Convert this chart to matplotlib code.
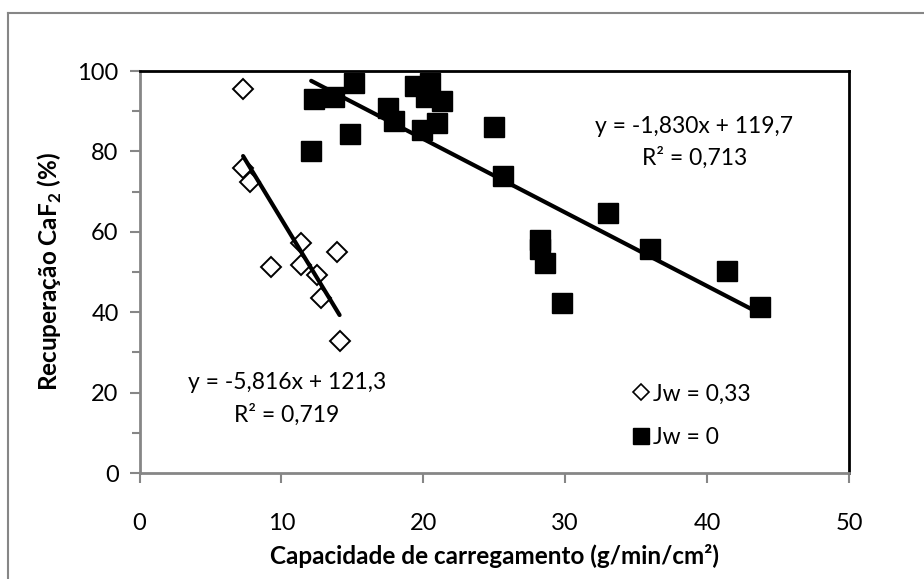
import numpy as np
import matplotlib
matplotlib.use("Agg")
import matplotlib.pyplot as plt
from matplotlib.lines import Line2D
from matplotlib.ticker import MultipleLocator

plt.rcParams['font.family'] = ['Lato', 'DejaVu Sans']
plt.rcParams['mathtext.fontset'] = 'custom'
plt.rcParams['mathtext.rm'] = 'Lato'
plt.rcParams['mathtext.bf'] = 'Lato:bold'

# Jw = 0,33 (open diamonds)
x_jw033 = [7.3, 7.3, 7.8, 11.4, 9.3, 11.4, 12.5, 13.9, 12.8, 14.1]
y_jw033 = [95.4, 75.8, 72.4, 57.3, 51.2, 51.8, 49.2, 55.0, 43.5, 32.8]

# Jw = 0 (filled squares)
x_jw0 = [12.3, 13.7, 15.1, 12.1, 14.8, 17.5, 17.9, 19.4, 20.5, 20.2, 21.3,
         19.9, 21.0, 25.0, 25.6, 33.0, 28.2, 28.2, 28.6, 29.8, 36.0, 41.4, 43.7]
y_jw0 = [93.0, 93.5, 96.9, 80.1, 84.3, 90.7, 87.6, 96.3, 97.1, 93.6, 92.6,
         85.3, 87.0, 86.1, 73.9, 64.6, 58.0, 55.6, 52.2, 42.2, 55.8, 50.2, 41.2]

# linear fits as reported on the chart
slope_033, icpt_033, r2_033 = -5.816, 121.3, 0.719
slope_0, icpt_0, r2_0 = -1.830, 119.7, 0.713

W, H = 924, 579
fig = plt.figure(figsize=(W / 100, H / 100), dpi=100)
ax = fig.add_axes([139.5 / W, 1 - 473 / H, (849 - 139.5) / W, (473 - 71) / H])

gray = '#868686'

ax.plot(x_jw033, y_jw033, 'D', ms=10, mfc='white', mec='black', mew=1.4,
        zorder=3)
ax.plot(x_jw0, y_jw0, 's', ms=14.5, mfc='black', mec='black', zorder=3)

xs = np.array([min(x_jw033), max(x_jw033)])
ax.plot(xs, slope_033 * xs + icpt_033, color='black', lw=3,
        solid_capstyle='round', zorder=4)
xs = np.array([min(x_jw0), max(x_jw0)])
ax.plot(xs, slope_0 * xs + icpt_0, color='black', lw=3,
        solid_capstyle='round', zorder=4)


def fmt(v, nd):
    return f"{v:.{nd}f}".replace('.', ',')


ax.text(10.4, 22.5, f"y = {fmt(slope_033, 3)}x + {fmt(icpt_033, 1)}",
        ha='center', va='center', fontsize=16.5)
ax.text(10.4, 14.4, f"R² = {fmt(r2_033, 3)}", ha='center', va='center',
        fontsize=16.5)
ax.text(39.1, 86.1, f"y = {fmt(slope_0, 3)}x + {fmt(icpt_0, 1)}",
        ha='center', va='center', fontsize=16.5)
ax.text(39.1, 78.4, f"R² = {fmt(r2_0, 3)}", ha='center', va='center',
        fontsize=16.5)

ax.set_xlim(0, 50)
ax.set_ylim(0, 100)
ax.xaxis.set_major_locator(MultipleLocator(10))
ax.yaxis.set_major_locator(MultipleLocator(20))
ax.yaxis.set_minor_locator(MultipleLocator(10))
ax.tick_params(axis='both', which='both', direction='out', color=gray,
               width=1.5, labelsize=17)
ax.tick_params(axis='both', which='major', length=7)
ax.tick_params(axis='y', which='minor', length=6)
ax.tick_params(axis='x', pad=22)
ax.tick_params(axis='y', pad=8)

for side in ('left', 'bottom'):
    ax.spines[side].set_color(gray)
    ax.spines[side].set_linewidth(2)
for side in ('top', 'right'):
    ax.spines[side].set_color('black')
    ax.spines[side].set_linewidth(2)

ax.set_xlabel('Capacidade de carregamento (g/min/cm²)', fontsize=17.5,
              fontweight='bold', labelpad=7)
ax.set_ylabel(r'Recuperação CaF$_\mathbf{2}$ (%)', fontsize=17.5,
              fontweight='bold', labelpad=10)

handles = [
    Line2D([], [], ls='none', marker='D', ms=8, mfc='white', mec='black',
           mew=1.2),
    Line2D([], [], ls='none', marker='s', ms=11.5, mfc='black', mec='black'),
]
ax.legend(handles, ['Jw = 0,33', 'Jw = 0'], loc='upper left',
          bbox_to_anchor=(622 / W, 1 - 372 / H),
          bbox_transform=fig.transFigure, frameon=False, fontsize=16.5,
          handlelength=0.7, handletextpad=0.15, labelspacing=1.0,
          borderpad=0)

# chart area frame (top and left edges)
fig.add_artist(Line2D([8 / W, 8 / W], [0, 1 - 12.7 / H], color=gray, lw=1.5))
fig.add_artist(Line2D([8 / W, 1], [1 - 12.7 / H, 1 - 12.7 / H], color=gray,
                      lw=1.5))

fig.savefig('out.png', dpi=100)
